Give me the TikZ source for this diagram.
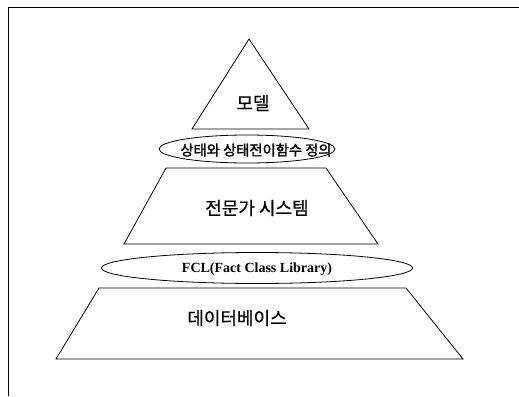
\documentclass[tikz,border=0pt]{standalone}
\usepackage{fontspec}
\newfontfamily\kr[FakeBold=0.6]{Noto Sans CJK KR}
\newfontfamily\krb[FakeBold=1.8]{Noto Sans CJK KR}
\setmainfont{Liberation Serif}
\usetikzlibrary{shapes.geometric}
\begin{document}
\begin{tikzpicture}[x=1pt,y=-1pt,line width=0.8pt,
  lbl/.style={font=\kr\fontsize{18}{21}\selectfont, inner sep=0pt},
  ell/.style={draw, ellipse, inner sep=0pt}]
\useasboundingbox (0,0) rectangle (519,396);
% frame
\coordinate (ftr) at (519,7.5);
\coordinate (ftl) at (8,7.5);
\coordinate (fbl) at (8,396);
\draw[line width=1pt] (ftr) -- (ftl) -- (fbl);
% top triangle
\coordinate (t1) at (249,39);
\coordinate (t2) at (309,129);
\coordinate (t3) at (192,129);
\draw (t1) -- (t2) -- (t3) -- cycle;
\node[lbl] (model) at (253,103) {모델};
% ellipse 1
\node[ell, minimum width=176pt, minimum height=28pt] (e1) at (247,149) {};
\node[font=\krb\fontsize{14.3}{16}\selectfont, inner sep=0pt] (e1t) at (256,150) {상태와 상태전이함수 정의};
% middle trapezoid
\coordinate (m1) at (166,168);
\coordinate (m2) at (326,168);
\coordinate (m3) at (378,244);
\coordinate (m4) at (124,244);
\draw (m1) -- (m2) -- (m3) -- (m4) -- cycle;
\node[lbl] (expert) at (257,208) {전문가 시스템};
% ellipse 2
\node[ell, minimum width=311pt, minimum height=31pt] (e2) at (257,268) {};
\node[font=\bfseries\fontsize{14}{16}\selectfont, inner sep=0pt] (e2t) at (257,269) {FCL(Fact Class Library)};
% bottom trapezoid
\coordinate (b1) at (99,288);
\coordinate (b2) at (406,288);
\coordinate (b3) at (463,359);
\coordinate (b4) at (56,359);
\draw (b1) -- (b2) -- (b3) -- (b4) -- cycle;
\node[lbl] (db) at (237,318) {데이터베이스};
\end{tikzpicture}
\end{document}
